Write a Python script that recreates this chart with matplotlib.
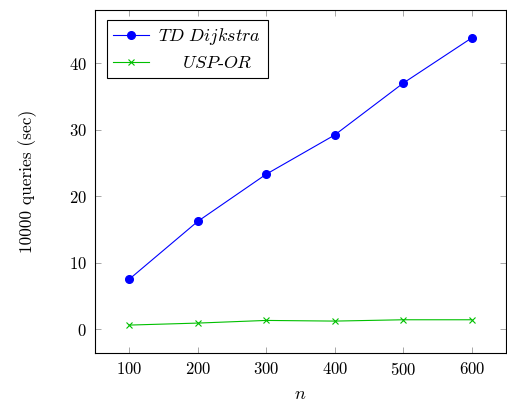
import matplotlib
matplotlib.use("Agg")
import matplotlib.pyplot as plt

n_values = [100, 200, 300, 400, 500, 600]
td_dijkstra = [7.5, 16.2, 23.3, 29.2, 37.0, 43.8]
usp_or = [0.6, 0.9, 1.3, 1.2, 1.4, 1.4]
x_ticks = [100, 200, 300, 400, 500, 600]
y_ticks = [0, 10, 20, 30, 40]

plt.rcParams['font.family'] = 'serif'
plt.rcParams['font.serif'] = ['cmr10']
plt.rcParams['mathtext.fontset'] = 'cm'
plt.rcParams['axes.formatter.use_mathtext'] = True

fig = plt.figure(figsize=(5.07, 4.04), dpi=100)
ax = fig.add_axes([95/507, 1-353/404, (506-95)/507, (353-10)/404])

ax.plot(n_values, td_dijkstra, color='blue', lw=0.8, marker='o', markersize=5.5,
        label=r'$\mathit{TD\ Dijkstra}$')
ax.plot(n_values, usp_or, color='#00c000', lw=0.8, marker='x', markersize=4.5,
        markeredgewidth=0.8, label=r'    $\mathit{USP}$-$\mathit{OR}$')

ax.set_xlim(50, 650)
ax.set_ylim(-3.6, 48)
ax.set_xticks(x_ticks)
ax.set_yticks(y_ticks)
ax.tick_params(direction='in', top=True, right=True, length=4, width=0.6,
               color='#999999', labelsize=12, pad=6)
for s in ax.spines.values():
    s.set_linewidth(0.8)
ax.set_xlabel(r'$n$', fontsize=13, labelpad=6)
ax.set_ylabel('10000 queries (sec)', fontsize=12.5, labelpad=23)

leg = ax.legend(loc='upper left', bbox_to_anchor=(12/411, 1-10/343), fontsize=13,
                frameon=True, fancybox=False, edgecolor='black', framealpha=1,
                handlelength=2.0, borderpad=0.35, labelspacing=0.45, handletextpad=0.5,
                borderaxespad=0)
leg.get_frame().set_linewidth(0.8)

fig.savefig('out.png', dpi=100)
